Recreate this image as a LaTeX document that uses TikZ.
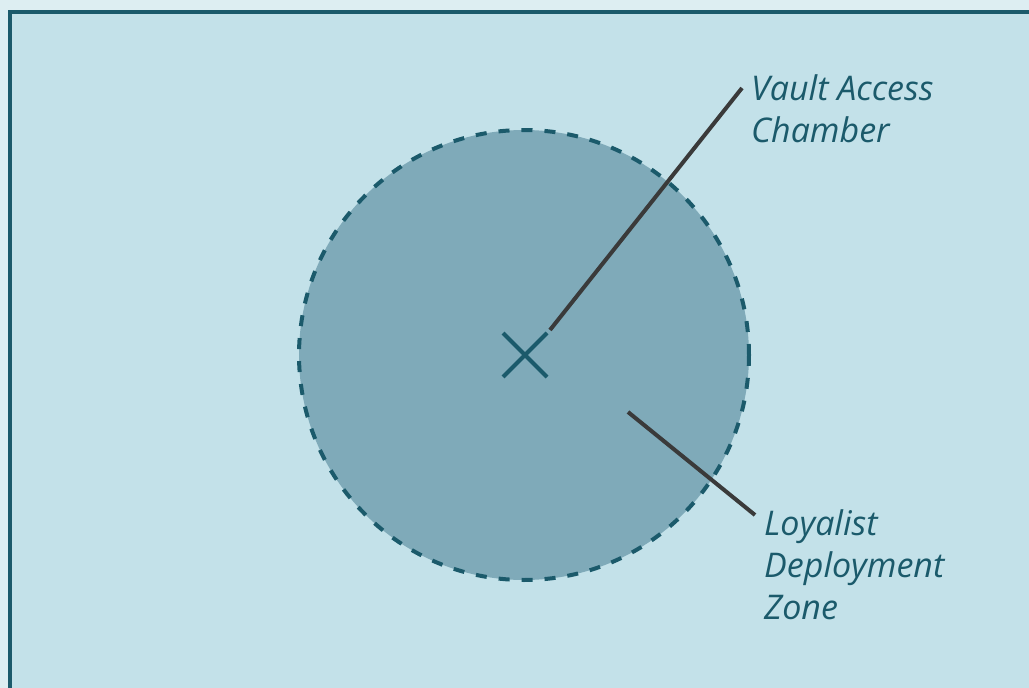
\documentclass[tikz,border=0pt]{standalone}
\usepackage{fontspec}
\setmainfont{Open Sans}
\definecolor{outerbg}{HTML}{DDEEF2}
\definecolor{innerbg}{HTML}{C3E1E9}
\definecolor{teal}{HTML}{1B5A6B}
\definecolor{zonefill}{HTML}{7FAAB9}
\definecolor{leader}{HTML}{3A3A3A}
\tikzset{
  lbl/.style={font=\fontsize{34}{42}\selectfont\itshape, text=teal, align=left, inner sep=0pt, anchor=base west},
  leaderline/.style={draw=leader, line width=4pt},
  zone/.style={circle, draw=teal, fill=zonefill, line width=4pt, dash pattern=on 11pt off 12pt, minimum size=450pt, inner sep=0pt},
  crossline/.style={draw=teal, line width=4pt}
}
\begin{document}
\begin{tikzpicture}[x=1pt,y=-1pt]
\useasboundingbox (0,0) rectangle (1029,688);
\fill[outerbg] (0,0) rectangle (1029,688);
\fill[innerbg, draw=teal, line width=4pt] (10,12) rectangle (1040,700);
\node[zone] (z) at (524,355) {};
\coordinate (c) at (525,355);
\draw[crossline] (503,333) -- (547,377);
\draw[crossline] (547,333) -- (503,377);
\coordinate (l1s) at (550,330);
\coordinate (l1e) at (742,88);
\coordinate (l2s) at (628,412);
\coordinate (l2e) at (755,515);
\draw[leaderline] (l1s) -- (l1e);
\draw[leaderline] (l2s) -- (l2e);
\node[lbl] (vault) at (751,142) {Vault Access\\Chamber};
\node[lbl] (loyal) at (764,619) {Loyalist\\Deployment\\Zone};
\end{tikzpicture}
\end{document}
